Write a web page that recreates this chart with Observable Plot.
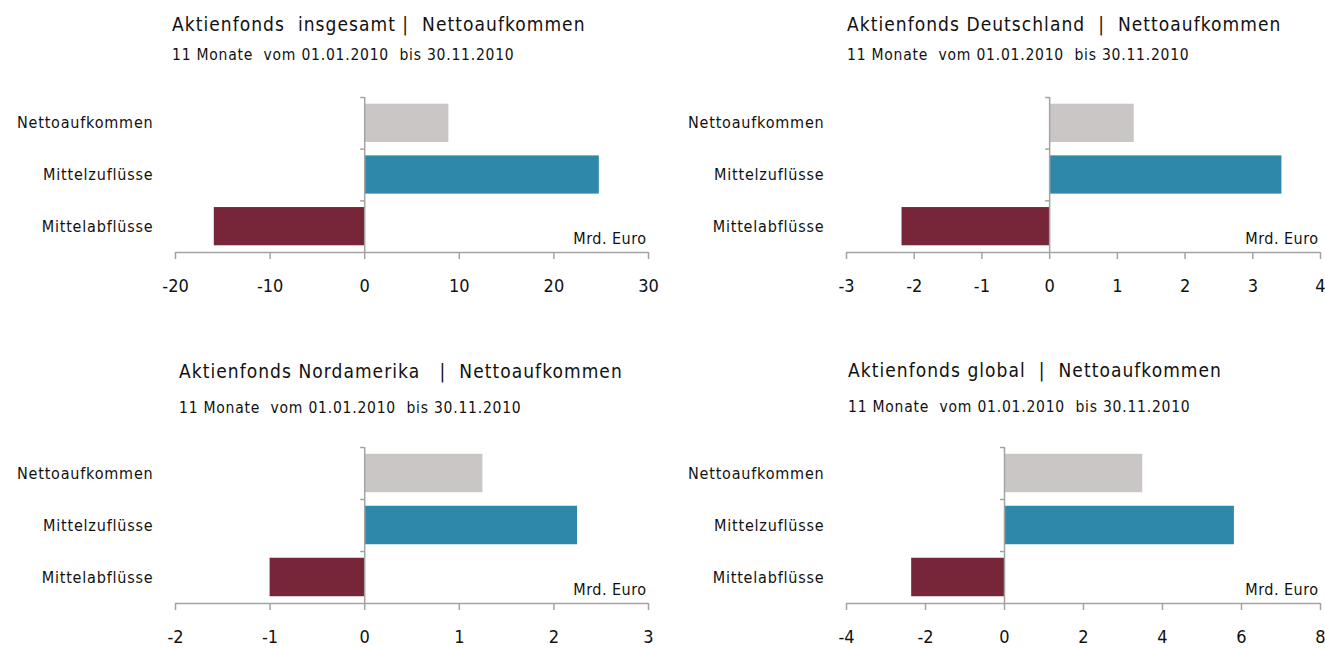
<!DOCTYPE html>
<html>
<head>
<meta charset="utf-8">
<script src="https://cdn.jsdelivr.net/npm/d3@7"></script>
<script src="https://cdn.jsdelivr.net/npm/@observablehq/plot@0.6"></script>
<style>
  html, body { margin: 0; padding: 0; background: #fff; }
  body { width: 1325px; height: 648px; position: relative; overflow: hidden; font-family: "DejaVu Sans Condensed", "Open Sans", sans-serif; font-stretch: condensed; color: #111; }
  .title, .sub { position: absolute; white-space: pre; line-height: 1; }
  .title { font-size: 19px; letter-spacing: 0.055em; }
  .sub { font-size: 15.5px; letter-spacing: 0.05em; }
  .chart { position: absolute; }
</style>
</head>
<body>
<script>
// ---- data ----
const categories = ["Nettoaufkommen", "Mittelzuflüsse", "Mittelabflüsse"];
const barColors = ["#cbc6c6", "#2e88a9", "#772538"];
const insgesamt = [8.9, 24.8, -15.9];
const deutschland = [1.25, 3.43, -2.18];
const nordamerika = [1.25, 2.25, -1.0];
const globalFonds = [3.5, 5.82, -2.35];
const titles = [
  "Aktienfonds  insgesamt |  Nettoaufkommen",
  "Aktienfonds Deutschland  |  Nettoaufkommen",
  "Aktienfonds Nordamerika   |  Nettoaufkommen",
  "Aktienfonds global  |  Nettoaufkommen"
];
const subtitle = "11 Monate  vom 01.01.2010  bis 30.11.2010";
const unit = "Mrd. Euro";
const ticksInsgesamt = [-20, -10, 0, 10, 20, 30];
const ticksDeutschland = [-3, -2, -1, 0, 1, 2, 3, 4];
const ticksNordamerika = [-2, -1, 0, 1, 2, 3];
const ticksGlobal = [-4, -2, 0, 2, 4, 6, 8];

// ---- layout ----
const axisColor = "#a3a3a3";
const fontStack = "'DejaVu Sans Condensed', 'Open Sans', sans-serif";
const panels = [
  {values: insgesamt, ticks: ticksInsgesamt, title: titles[0], left: 0, top: 80, width: 660, height: 230, mL: 175, mR: 12, mT: 17, mB: 58, tx: 172, ty: 15, sy: 48},
  {values: deutschland, ticks: ticksDeutschland, title: titles[1], left: 660, top: 80, width: 665, height: 230, mL: 186, mR: 5, mT: 17, mB: 58, tx: 847, ty: 15, sy: 48},
  {values: nordamerika, ticks: ticksNordamerika, title: titles[2], left: 0, top: 430, width: 660, height: 218, mL: 175, mR: 12, mT: 17, mB: 45, tx: 179, ty: 362, sy: 400.5},
  {values: globalFonds, ticks: ticksGlobal, title: titles[3], left: 660, top: 430, width: 665, height: 218, mL: 186, mR: 5, mT: 17, mB: 45, tx: 848, ty: 361, sy: 399.5}
];

for (const p of panels) {
  const t = document.createElement("div");
  t.className = "title"; t.textContent = p.title;
  t.style.left = p.tx + "px"; t.style.top = p.ty + "px";
  document.body.appendChild(t);
  const s = document.createElement("div");
  s.className = "sub"; s.textContent = subtitle;
  s.style.left = p.tx + "px"; s.style.top = p.sy + "px";
  document.body.appendChild(s);

  const data = categories.map((c, i) => ({category: c, index: i, value: p.values[i], color: barColors[i]}));
  const domain = [p.ticks[0], p.ticks[p.ticks.length - 1]];
  const chart = Plot.plot({
    width: p.width,
    height: p.height,
    marginLeft: p.mL,
    marginRight: p.mR,
    marginTop: p.mT,
    marginBottom: p.mB,
    style: {fontFamily: fontStack, fontStretch: "condensed", fontSize: "16px", color: "#111", letterSpacing: "0.05em", background: "transparent", overflow: "visible"},
    x: {domain, ticks: p.ticks, label: null, axis: null},
    y: {domain: [0, 3], reverse: true, axis: null},
    color: {type: "identity"},
    marks: [
      Plot.rectX(data, {x1: 0, x2: "value", y1: d => d.index + 0.13, y2: d => d.index + 0.87, fill: "color"}),
      Plot.ruleX([0], {stroke: axisColor, strokeWidth: 1.5}),
      Plot.ruleY([0, 1, 2], {y: d => d, x1: 0, x2: 0, insetLeft: -4, stroke: axisColor, strokeWidth: 1.5}),
      Plot.ruleY([3], {stroke: axisColor, strokeWidth: 1.5}),
      Plot.axisX({ticks: p.ticks, tickSize: 7, tickPadding: 20, stroke: axisColor, strokeWidth: 1.5, fontSize: 18, tickFormat: d => String(d), label: null}),
      Plot.axisY({ticks: [0.5, 1.5, 2.5], tickFormat: d => categories[Math.floor(d)], tickSize: 0, tickPadding: 22, label: null}),
      Plot.text([unit], {x: domain[1], y: 3, text: d => d, textAnchor: "end", dx: -2, dy: -14, fontSize: 16})
    ]
  });
  chart.querySelectorAll('[aria-label="x-axis tick label"] text').forEach(el => el.style.letterSpacing = "0");
  chart.querySelectorAll('[aria-label="text"] text').forEach(el => el.style.letterSpacing = "0.03em");
  chart.classList.add("chart");
  chart.style.left = p.left + "px";
  chart.style.top = p.top + "px";
  chart.style.position = "absolute";
  document.body.appendChild(chart);
}
</script>
</body>
</html>
